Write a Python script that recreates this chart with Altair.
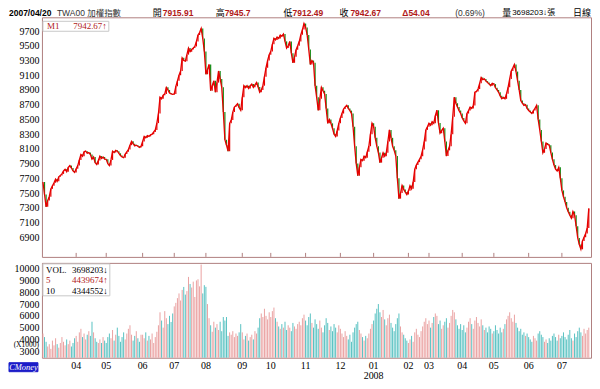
import altair as alt
import pandas as pd
import numpy as np

# ---------------- data ----------------
month_names = ["03", "04", "05", "06", "07", "08", "09", "10", "11", "12",
               "01", "02", "03", "04", "05", "06", "07"]
month_years = ["2007"] * 10 + ["2008"] * 7

close_months = [
    [7650, 7480, 7313, 7400, 7450, 7557, 7600, 7640, 7690, 7660, 7720, 7740, 7760, 7800, 7824, 7790, 7850, 7873, 7840, 7800, 7780],
    [7830, 7873, 7950, 8024, 8000, 8060, 8069, 8040, 8050, 8024, 7960, 7990, 7913, 7889, 7943, 8002, 7970, 7990, 7960],
    [7958, 7900, 7873, 7950, 8069, 8050, 8080, 8069, 8040, 8010, 7990, 7980, 8030, 8060, 8091, 8150, 8202, 8170, 8140, 8150, 8136, 8120, 8136],
    [8200, 8269, 8250, 8280, 8270, 8291, 8300, 8330, 8358, 8450, 8580, 8802, 8780, 8830, 8847, 8936, 8900, 8860, 8847, 8840],
    [8847, 8950, 9024, 9100, 9158, 9336, 9300, 9291, 9380, 9469, 9420, 9450, 9470, 9491, 9560, 9647, 9680, 9736, 9600, 9424],
    [9113, 9180, 9247, 8891, 8960, 9024, 8869, 9000, 9158, 9050, 8936, 8600, 8224, 8150, 8069, 8447, 8491, 8600, 8669, 8690, 8713, 8660, 8624],
    [8800, 8958, 8930, 8958, 8920, 8958, 8980, 8936, 8970, 9002, 8940, 8869, 8900, 8958, 9080, 9202, 9300, 9380],
    [9424, 9520, 9602, 9580, 9620, 9600, 9647, 9630, 9660, 9560, 9469, 9500, 9558, 9400, 9269, 9350, 9447, 9500, 9558, 9650, 9720, 9802],
    [9750, 9647, 9450, 9247, 9300, 9269, 8958, 8800, 8624, 8780, 8936, 8890, 8847, 8650, 8447, 8500, 8447, 8380, 8300, 8269, 8350, 8447],
    [8520, 8580, 8640, 8670, 8691, 8650, 8620, 8580, 8400, 8136, 7900, 7736, 7850, 7958, 7940, 8002, 7980, 8060, 8136, 8300, 8447],
    [8400, 8250, 8136, 8050, 7913, 7980, 8047, 8000, 8047, 8200, 8358, 8250, 8136, 8080, 8002, 7700, 7424, 7500, 7602, 7550, 7513, 7480],
    [7530, 7600, 7557, 7650, 7824, 7880, 7920, 7958, 8000, 8091, 8200, 8358, 8400],
    [8447, 8420, 8470, 8447, 8550, 8624, 8450, 8313, 8350, 8380, 8200, 8002, 8080, 8136, 8300, 8536, 8802, 8720, 8669, 8620, 8580],
    [8520, 8480, 8447, 8580, 8620, 8669, 8650, 8690, 8869, 8880, 8913, 8990, 9069, 9040, 9050, 9020, 9002, 8980, 8958, 8990],
    [8980, 8930, 8900, 8869, 8820, 8780, 8800, 8780, 8850, 8936, 9050, 9158, 9200, 9247, 9150, 9024, 8900, 8758, 8720, 8691, 8700, 8650],
    [8620, 8600, 8580, 8620, 8650, 8691, 8500, 8358, 8200, 8047, 8100, 8180, 8160, 8150, 8050, 7958, 7880, 7824, 7800, 7850, 7700],
    [7536, 7450, 7380, 7300, 7247, 7200, 7158, 7250, 7200, 7050, 6891, 6800, 6736, 6850, 6900, 6950, 7024, 7291],
]

volume_months = [  # thousands of lots
    [4500, 4200, 3800, 3400, 3600, 3200, 3900, 3500, 4100, 3600, 3300, 3700, 4200, 3800, 3500, 4000, 3600, 3900, 3400, 3700, 4100],
    [4300, 3800, 4600, 4900, 4200, 4500, 4000, 4400, 4700, 4300, 5500, 4600, 4100, 3800, 3698, 4000, 3700, 4200, 3900],
    [3700, 4200, 4500, 4100, 4800, 3900, 4400, 5000, 4300, 3800, 4200, 4600, 4000, 4500, 4900, 5200, 4400, 3900, 4300, 4700, 4100, 3800, 4400],
    [4400, 4100, 4600, 3900, 4300, 4000, 4500, 3700, 4200, 4650, 5200, 6300, 5600, 5000, 6400, 5800, 5300, 6000, 5480, 6200],
    [6800, 7100, 7500, 7900, 7300, 8200, 8450, 7800, 8100, 9300, 8700, 8400, 8900, 7600, 9000, 9100, 8500, 10350, 7900, 8600],
    [8460, 7000, 5800, 5200, 4650, 5500, 5000, 5300, 4800, 5500, 4700, 5900, 5600, 5900, 4300, 4600, 4400, 4700, 4200, 4500, 4300, 4600, 5300],
    [4600, 4000, 4300, 4500, 3900, 4200, 4400, 4000, 4700, 4500, 5000, 5800, 6200, 5900, 6600, 6000, 5700, 6300],
    [5900, 6400, 6700, 5800, 5500, 5100, 4900, 5300, 5000, 5500, 4800, 5200, 5000, 4700, 5400, 5100, 4900, 5300, 5500, 5200, 5800, 6100],
    [5600, 5200, 5900, 6200, 5400, 5000, 5700, 5300, 4900, 5600, 5000, 4600, 5200, 5800, 5400, 4800, 5100, 4700, 5300, 5000, 4600, 5200],
    [4900, 4500, 4200, 4700, 4300, 4000, 4400, 3800, 4600, 5000, 5300, 5500, 4800, 4500, 4200, 3900, 4300, 4100, 4500, 4900, 5300],
    [5600, 6200, 6600, 7000, 6300, 5900, 6500, 5700, 5200, 5800, 6100, 5400, 5000, 4700, 5300, 5800, 6200, 5100, 4600, 4400, 4100, 3900],
    [3700, 4000, 4300, 3800, 4600, 4900, 4400, 4200, 4700, 5100, 5500, 5800, 5300],
    [5600, 5000, 5400, 5900, 6200, 6000, 5300, 5600, 4900, 5200, 5500, 5800, 5000, 5400, 6000, 6500, 6300, 5700, 5200, 4900, 5300],
    [4800, 5200, 4600, 5000, 5500, 5800, 5300, 4900, 5600, 5900, 5400, 5100, 5700, 5200, 4800, 5000, 4600, 5100, 4900, 4500],
    [4700, 5200, 4800, 4500, 5000, 4600, 4900, 5300, 5700, 6000, 6300, 5800, 5500, 6100, 5400, 5000, 4700, 4900, 4400, 4600, 4300, 4500],
    [4200, 4000, 3800, 4300, 4100, 3900, 4500, 4700, 4400, 4200, 3800, 4000, 3700, 4100, 3900, 4300, 4500, 4200, 3900, 4400, 4100],
    [4300, 4600, 4200, 4000, 4400, 4800, 4100, 3900, 4500, 4200, 4700, 5000, 4600, 4300, 4900, 4500, 4800, 5000],
]

price_ticks = [6900, 7100, 7300, 7500, 7700, 7900, 8100, 8300, 8500, 8700, 8900, 9100, 9300, 9500, 9700]
volume_ticks = [3000, 4000, 5000, 6000, 7000, 8000, 9000, 10000]

header_date = "2007/04/20"
header_symbol = "TWA00 加權指數"
header_open = "7915.91"
header_high = "7945.7"
header_low = "7912.49"
header_close = "7942.67"
header_change = "Δ54.04"
header_pct = "(0.69%)"
header_volume = "3698203↓張"
m1_text = "7942.67↑"
vol_names = ["VOL.", "5", "10"]
vol_values = ["3698203↓", "4439674↑", "4344552↓"]

# ---------------- table ----------------
rows = []
i = 0
for m, (cl, vo) in enumerate(zip(close_months, volume_months)):
    assert len(cl) == len(vo), (m, len(cl), len(vo))
    for d, (c, v) in enumerate(zip(cl, vo)):
        lab = ""
        if d == 0 and m > 0:
            lab = month_names[m] + ("\n" + month_years[m] if month_names[m] == "01" else "")
        rows.append({"idx": i, "close": c, "vol": v, "mlabel": lab})
        i += 1
df = pd.DataFrame(rows)
df["prev"] = df["close"].shift(1).fillna(df["close"].iloc[0])
df["dir"] = np.where(df["close"] >= df["prev"], "up", "down")
months_df = df[df["mlabel"] != ""].copy()
one = pd.DataFrame({"k": [0]})

# ---------------- style ----------------
RED = "#e60000"
GREEN = "#128a12"
PINK = "#eaa2a2"
TEAL = "#58c2c2"
BORDER = "#b08080"
DARKRED = "#b01818"
SERIF = "Liberation Serif"
SANS = "Liberation Sans, Noto Sans CJK TC"

W, HP, HV = 550, 240, 95
xs = alt.Scale(domain=[-0.63, 346.4], nice=False, zero=False)
ps = alt.Scale(domain=[6633, 9887], nice=False, zero=False)
vs = alt.Scale(domain=[2450, 10490], nice=False, zero=False)

ax = dict(domain=False, ticks=False, grid=False, labelFont=SERIF, labelFontSize=10,
          labelColor="#000000", labelPadding=3, title=None, labelOverlap=False, format="d")
price_axis = alt.Axis(values=price_ticks, **ax)
vol_axis = alt.Axis(values=volume_ticks, **ax)


def txt(text, x, y, color="#000000", size=9, weight="normal", align="left", font=SANS, style="normal"):
    return alt.Chart(one).mark_text(
        text=text, align=align, baseline="middle", color=color, fontSize=size,
        fontWeight=weight, font=font, fontStyle=style
    ).encode(x=alt.value(x), y=alt.value(y))


def box(x1, x2, y1, y2, fill="white", stroke="#c8c8c8"):
    return alt.Chart(one).mark_rect(fill=fill, stroke=stroke, strokeWidth=1).encode(
        x=alt.value(x1), x2=alt.value(x2), y=alt.value(y1), y2=alt.value(y2))


X = alt.X("idx:Q", scale=xs, axis=None)

candles = alt.Chart(df).mark_rule(strokeWidth=1.2).encode(
    x=X,
    y=alt.Y("prev:Q", scale=ps, axis=price_axis),
    y2="close:Q",
    color=alt.Color("dir:N", scale=alt.Scale(domain=["up", "down"], range=[RED, GREEN]), legend=None),
)
m1_line = alt.Chart(df).mark_line(color=RED, strokeWidth=1.3).encode(
    x=X, y=alt.Y("close:Q", scale=ps, axis=price_axis)
)
month_ticks = alt.Chart(months_df).mark_rule(color=BORDER).encode(
    x=X, y=alt.value(HP - 4), y2=alt.value(HP)
)

HY = -4
header = [
    txt(header_date, -33, HY, weight="bold", size=8.5),
    txt(header_symbol, 15, HY, color="#333333", size=8.5),
    txt("開", 111, HY), txt(header_open, 121, HY, color=DARKRED, weight="bold", size=8.5),
    txt("高", 174, HY), txt(header_high, 183, HY, color=DARKRED, weight="bold", size=8.5),
    txt("低", 242, HY), txt(header_low, 251, HY, color=DARKRED, weight="bold", size=8.5),
    txt("收", 298, HY), txt(header_close, 309, HY, color=DARKRED, weight="bold", size=8.5),
    txt(header_change, 361, HY, color=DARKRED, weight="bold", size=8.5),
    txt(header_pct, 414, HY, color="#333333", size=8.5),
    txt("量", 461, HY), txt(header_volume, 471, HY, size=8),
    txt("日線", 550, HY, align="right"),
]

price = alt.layer(
    candles, m1_line, month_ticks,
    box(1, 67, 4, 14),
    txt("M1", 5, 9, color=DARKRED, font=SERIF),
    txt(m1_text, 65, 9, color=DARKRED, font=SERIF, align="right"),
    *header,
).properties(width=W, height=HP)

vol_bars = alt.Chart(df).mark_rule(strokeWidth=1).encode(
    x=X,
    y=alt.Y("vol:Q", scale=vs, axis=vol_axis),
    y2=alt.value(HV),
    color=alt.Color("dir:N", scale=alt.Scale(domain=["up", "down"], range=[PINK, TEAL]), legend=None),
)
month_labels = alt.Chart(months_df).mark_text(
    baseline="top", fontSize=10, font=SERIF, lineBreak="\n", lineHeight=10, color="#000000"
).encode(x=X, y=alt.value(HV + 3), text="mlabel:N")

legend_colors = ["#000000", DARKRED, "#000000"]
vol_legend = []
for k, (nm, vv, col) in enumerate(zip(vol_names, vol_values, legend_colors)):
    yy = 7 + k * 10.5
    vol_legend.append(txt(nm, 4, yy, color=col, font=SERIF))
    vol_legend.append(txt(vv, 66, yy, color=col, font=SERIF, align="right"))

volume = alt.layer(
    vol_bars,
    box(1, 68, 1, 33),
    *vol_legend,
    txt("(X1000)", -3, 82.5, size=7.5, font=SERIF, align="right"),
    month_labels,
    box(-33, -4, HV + 5, HV + 14, fill="#1c1cc8", stroke="#1c1cc8"),
    txt("CMoney", -18.5, HV + 9.5, color="white", size=8.5, font=SERIF, style="italic", align="center"),
).properties(width=W, height=HV)

chart = alt.vconcat(price, volume, spacing=4).resolve_scale(
    color="independent"
).properties(
    padding=0, background="white"
).configure_view(stroke=BORDER, strokeWidth=1)

chart.save("out.html", embed_options={"renderer": "svg", "actions": False})
